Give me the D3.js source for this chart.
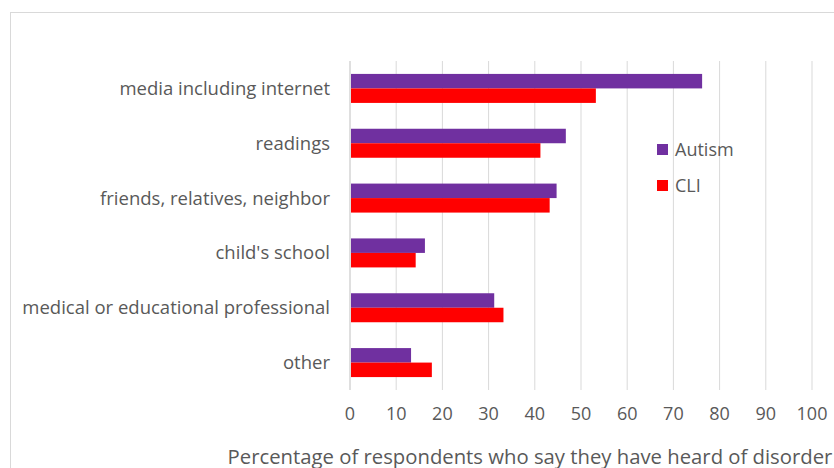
<!DOCTYPE html>
<html><head><meta charset="utf-8">
<script src="https://cdn.jsdelivr.net/npm/d3@7"></script>
<style>body{margin:0;background:#fff}svg{font-family:"Open Sans",sans-serif}</style>
</head><body><svg id="c" width="834" height="468"></svg>
<script>
const categories = ["media including internet", "readings", "friends, relatives, neighbor", "child's school", "medical or educational professional", "other"];
const autism = [76, 46.5, 44.5, 16, 31, 13];
const cli = [53, 41, 43, 14, 33, 17.5];
const ticks = [0, 10, 20, 30, 40, 50, 60, 70, 80, 90, 100];

const svg = d3.select('#c');
svg.append('rect').attr('x', 10.5).attr('y', 12.5).attr('width', 840).attr('height', 470)
  .attr('fill', 'none').attr('stroke', '#d9d9d9');

const x = d3.scaleLinear().domain([0, 100]).range([350, 812]);
const y = d3.scaleBand().domain(categories).range([61, 390]);
const bh = 14.5;

svg.append('g').selectAll('line').data(ticks.slice(1)).enter().append('line')
  .attr('x1', d => x(d)).attr('x2', d => x(d)).attr('y1', 61).attr('y2', 390)
  .attr('stroke', '#d9d9d9');
svg.append('line').attr('x1', 350).attr('x2', 350).attr('y1', 61).attr('y2', 390).attr('stroke', '#bfbfbf');

const rows = categories.map((c, i) => ({c, a: autism[i], l: cli[i]}));
svg.append('g').selectAll('rect').data(rows).enter().append('rect')
  .attr('x', x(0) + 1).attr('y', d => y(d.c) + y.bandwidth() / 2 - bh)
  .attr('width', d => x(d.a) - x(0)).attr('height', bh).attr('fill', '#7030A0');
svg.append('g').selectAll('rect').data(rows).enter().append('rect')
  .attr('x', x(0) + 1).attr('y', d => y(d.c) + y.bandwidth() / 2)
  .attr('width', d => x(d.l) - x(0)).attr('height', bh).attr('fill', '#FF0000');

svg.append('g').selectAll('text').data(categories).enter().append('text')
  .attr('x', 330).attr('y', d => y(d) + y.bandwidth() / 2).attr('dy', '0.35em')
  .attr('text-anchor', 'end').attr('font-size', 18.5).attr('fill', '#595959').text(d => d);

svg.append('g').selectAll('text').data(ticks).enter().append('text')
  .attr('x', d => x(d)).attr('y', 414).attr('dy', '0.35em')
  .attr('text-anchor', 'middle').attr('font-size', 18).attr('fill', '#595959').text(d => d);

svg.append('text').attr('x', 530).attr('y', 457).attr('dy', '0.35em').attr('text-anchor', 'middle')
  .attr('font-size', 20.3).attr('fill', '#595959').text('Percentage of respondents who say they have heard of disorder');

const legend = [['Autism', '#7030A0'], ['CLI', '#FF0000']];
legend.forEach((d, i) => {
  svg.append('rect').attr('x', 657).attr('y', 144 + i * 36).attr('width', 11).attr('height', 11).attr('fill', d[1]);
  svg.append('text').attr('x', 675).attr('y', 150 + i * 36).attr('dy', '0.35em')
    .attr('font-size', 18).attr('fill', '#595959').text(d[0]);
});
</script></body></html>
